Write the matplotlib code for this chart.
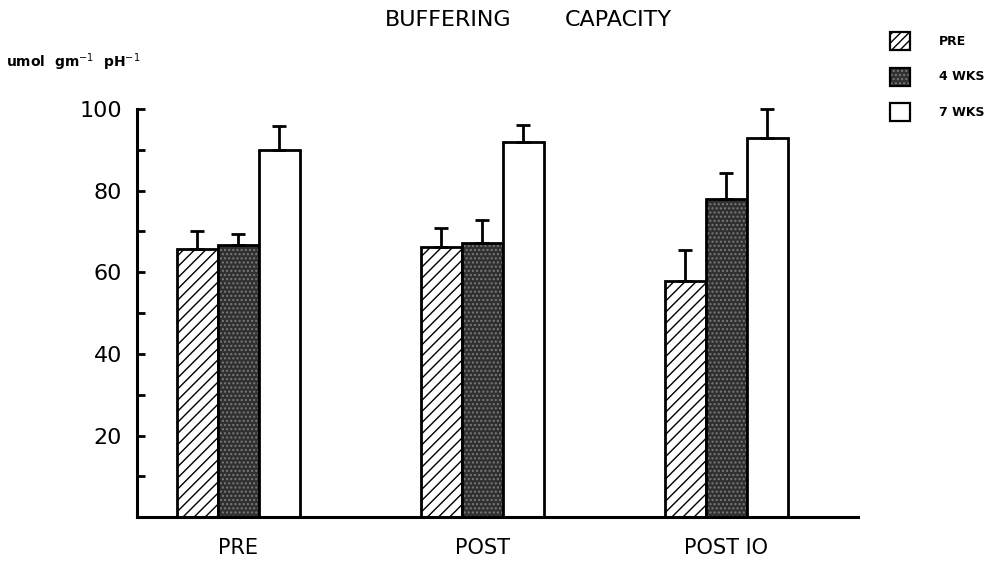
import matplotlib
matplotlib.use("Agg")
import matplotlib.pyplot as plt
from matplotlib.patches import Rectangle
import numpy as np

groups = ["PRE", "POST", "POST IO"]
series = ["PRE", "4 WKS", "7 WKS"]
pre_vals = [65.6, 66.1, 57.8]
pre_err = [4.6, 4.6, 7.6]
wk4_vals = [66.6, 67.1, 78.0]
wk4_err = [2.7, 5.6, 6.4]
wk7_vals = [90.0, 92.0, 92.9]
wk7_err = [5.9, 4.1, 7.1]

plt.rcParams['font.family'] = ['DejaVu Sans']
fig = plt.figure(figsize=(10.01, 5.64), dpi=100)
ax = fig.add_axes([0.137, 0.083, 0.72, 0.724])

x = np.arange(len(groups))
w = 0.168
lw = 2.0
dark = '#303030'
speck = '#7a7a7a'

# PRE hatched
ax.bar(x - w, pre_vals, w, facecolor='white', edgecolor='black', hatch='///', linewidth=0)
ax.bar(x - w, pre_vals, w, facecolor='none', edgecolor='black', linewidth=lw)
# 4 WKS speckled dark
ax.bar(x, wk4_vals, w, facecolor=dark, edgecolor=speck, hatch='....', linewidth=0)
ax.bar(x, wk4_vals, w, facecolor='none', edgecolor='black', linewidth=lw)
# 7 WKS white
ax.bar(x + w, wk7_vals, w, facecolor='white', edgecolor='black', linewidth=lw)

for off, v, e in [(-w, pre_vals, pre_err), (0, wk4_vals, wk4_err), (w, wk7_vals, wk7_err)]:
    ax.errorbar(x + off, v, yerr=[np.zeros(len(e)), e], fmt='none', ecolor='black',
                elinewidth=2, capsize=5, capthick=2, clip_on=False)

ax.set_xlim(-0.414, 2.54)
ax.set_ylim(0, 100)
for s in ['top', 'right']:
    ax.spines[s].set_visible(False)
ax.spines['left'].set_linewidth(2.2)
ax.spines['bottom'].set_linewidth(2.2)
ax.set_yticks(np.arange(10, 101, 10))
ax.set_yticklabels(['' if t % 20 else str(t) for t in range(10, 101, 10)], fontsize=16)
ax.tick_params(axis='y', direction='in', length=6, width=2, pad=11)
ax.set_xticks(x)
ax.set_xticklabels(groups, fontsize=15)
ax.tick_params(axis='x', length=0, pad=15)

fig.text(448 / 1001, 0.9645, "BUFFERING", ha='center', va='center', fontsize=16)
fig.text(618 / 1001, 0.9645, "CAPACITY", ha='center', va='center', fontsize=16)
fig.text(0.006, 0.89, r"umol  gm$^{-1}$  pH$^{-1}$", ha='left', va='center', fontsize=10, fontweight='bold')

# legend
fills = [dict(facecolor='white', hatch='////'), dict(facecolor=dark, hatch='....'), dict(facecolor='white', hatch=None)]
ys = [0.927, 0.864, 0.801]
for f, y, lab in zip(fills, ys, series):
    bx = 0.889
    r1 = Rectangle((bx, y - 0.016), 0.02, 0.032, transform=fig.transFigure,
                   facecolor=f['facecolor'], edgecolor=speck if lab == '4 WKS' else 'black',
                   hatch=f['hatch'], linewidth=0)
    fig.patches.append(r1)
    r2 = Rectangle((bx, y - 0.016), 0.02, 0.032, transform=fig.transFigure,
                   facecolor='none', edgecolor='black', linewidth=1.6)
    fig.patches.append(r2)
    fig.text(0.938, y, lab, ha='left', va='center', fontsize=9, fontweight='bold')

fig.savefig("out.png", dpi=100)
